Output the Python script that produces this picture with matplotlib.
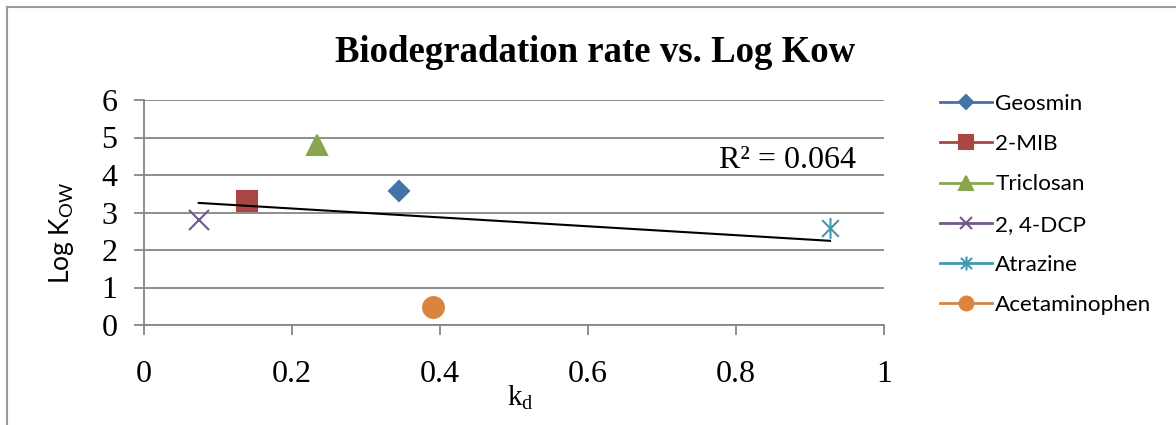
import numpy as np
import matplotlib.pyplot as plt
from matplotlib.lines import Line2D
from matplotlib.path import Path

plt.rcParams['mathtext.fontset'] = 'custom'
plt.rcParams['mathtext.rm'] = 'Liberation Serif'
plt.rcParams['mathtext.sf'] = 'Lato'

# compounds: biodegradation rate constant kd vs. log Kow
names = ["Geosmin", "2-MIB", "Triclosan", "2, 4-DCP", "Atrazine", "Acetaminophen"]
kd = [0.345, 0.139, 0.234, 0.074, 0.927, 0.390]
log_kow = [3.57, 3.32, 4.80, 2.80, 2.60, 0.47]

colors = ["#4572A7", "#AA4643", "#89A54E", "#71588F", "#4198AF", "#DB843D"]

# asterisk marker (x with a vertical stroke)
star = Path([(-1, -1), (1, 1), (-1, 1), (1, -1), (0, -1.25), (0, 1.25)],
            [Path.MOVETO, Path.LINETO, Path.MOVETO, Path.LINETO, Path.MOVETO, Path.LINETO])
markers = ["D", "s", "^", "x", star, "o"]
sizes = [10, 14, 14.5, 14, 15, 15]
leg_sizes = [7, 9.5, 9.5, 9, 10, 10]

fig = plt.figure(figsize=(11.76, 4.25), dpi=100)
ax = fig.add_axes([144 / 1176, 1 - 325 / 425, 740 / 1176, 225 / 425])

gray = "#868686"
for i in range(len(names)):
    ax.plot(kd[i], log_kow[i], linestyle="none", marker=markers[i], ms=sizes[i],
            color=colors[i], mec=colors[i], mew=1.5, zorder=3)

# linear trendline
x = np.array(kd)
y = np.array(log_kow)
slope, icept = np.polyfit(x, y, 1)
r2 = np.corrcoef(x, y)[0, 1] ** 2
xs = np.array([x.min(), x.max()])
ax.plot(xs, slope * xs + icept, color="black", lw=1.5, zorder=4)
ax.text(0.962, 4.4, f"R² = {r2:.3f}", ha="right", va="center",
        family="Liberation Serif", fontsize=23)

ax.set_xlim(0, 1)
ax.set_ylim(0, 6)
ax.set_xticks(np.arange(0, 1.01, 0.2))
ax.set_xticklabels(["0", "0.2", "0.4", "0.6", "0.8", "1"])
ax.set_yticks(range(7))
ax.grid(axis="y", color=gray, lw=1.3)
ax.set_axisbelow(True)
for s in ["top", "right"]:
    ax.spines[s].set_visible(False)
for s in ["left", "bottom"]:
    ax.spines[s].set_color(gray)
    ax.spines[s].set_linewidth(1.3)
ax.tick_params(axis="both", color=gray, width=1.3, length=7, labelsize=23)
ax.tick_params(axis="x", pad=18)
ax.tick_params(axis="y", pad=12)
for lab in ax.get_xticklabels() + ax.get_yticklabels():
    lab.set_family("Liberation Serif")

# axis titles
fig.text(520 / 1176, 1 - 398 / 425, "k$_{\\mathrm{d}}$", ha="center", va="center",
         family="Liberation Serif", fontsize=21)
fig.text(61 / 1176, 1 - 233 / 425, "Log K$_{\\mathsf{OW}}$", ha="center", va="center",
         rotation=90, family="Lato", fontsize=19)

fig.text(595 / 1176, 1 - 52 / 425, "Biodegradation rate vs. Log Kow", ha="center", va="center",
         family="Liberation Serif", weight="bold", fontsize=26.5)

handles = [Line2D([], [], color=colors[i], lw=2, marker=markers[i], ms=leg_sizes[i],
                  mec=colors[i], mew=1.5) for i in range(len(names))]
fig.legend(handles, names, loc="upper left", bbox_to_anchor=(940 / 1176, 1 - 94 / 425),
           frameon=False, prop={"family": "Lato", "size": 16.2}, handlelength=2.3,
           handletextpad=0.15, labelspacing=0.9, borderpad=0, borderaxespad=0)

# chart area border
fig.add_artist(Line2D([7 / 1176, 7 / 1176], [0, 1 - 7 / 425], color="#9a9a9a", lw=1.5))
fig.add_artist(Line2D([7 / 1176, 1], [1 - 7 / 425, 1 - 7 / 425], color="#9a9a9a", lw=1.5))

fig.savefig("out.png", dpi=100)
